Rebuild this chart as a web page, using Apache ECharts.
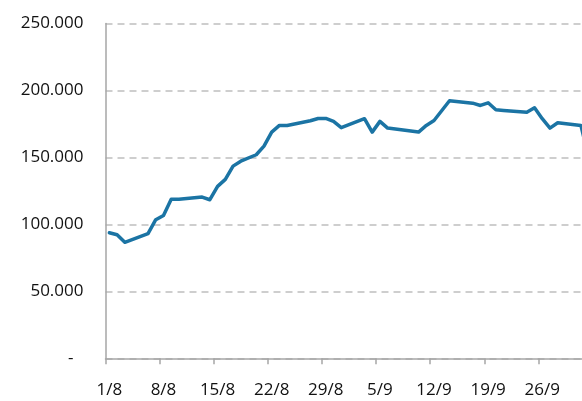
<!DOCTYPE html>
<html>
<head>
<meta charset="utf-8">
<script src="https://cdn.jsdelivr.net/npm/echarts@6/dist/echarts.min.js"></script>
<style>html,body{margin:0;padding:0;background:#fff;overflow:hidden;width:582px;height:401px}#c{width:600px;height:401px}</style>
</head>
<body>
<div id="c"></div>
<script>
// Daily categories (1 Aug – 2 Oct)
var days = ['1/8','2/8','3/8','4/8','5/8','6/8','7/8','8/8','9/8','10/8','11/8','12/8','13/8','14/8',
  '15/8','16/8','17/8','18/8','19/8','20/8','21/8','22/8','23/8','24/8','25/8','26/8','27/8','28/8',
  '29/8','30/8','31/8','1/9','2/9','3/9','4/9','5/9','6/9','7/9','8/9','9/9','10/9','11/9',
  '12/9','13/9','14/9','15/9','16/9','17/9','18/9','19/9','20/9','21/9','22/9','23/9','24/9','25/9',
  '26/9','27/9','28/9','29/9','30/9','1/10','2/10'];
// Series values (null = no observation, line connects across)
var values = [93800,92300,86600,null,null,93100,103500,106700,118700,118700,null,null,120400,118400,
  128400,133600,143500,147200,null,152000,158400,168900,173900,173900,null,null,177400,179100,
  179100,176900,172200,null,null,178900,168900,176900,171900,null,null,null,168900,173900,
  177600,null,192300,null,null,190500,188800,190800,185600,185100,null,null,183800,187100,
  178900,171900,175900,null,null,173900,150000];
var yTicks = [0,50000,100000,150000,200000,250000];

function fmt(v){
  if (v === 0) return '{z|-}';
  return String(v).replace(/\B(?=(\d{3})+(?!\d))/g, '.');
}

var chart = echarts.init(document.getElementById('c'), null, {renderer:'canvas'});
chart.setOption({
  animation:false,
  grid:{left:105.5, right:7.5, top:23.5, bottom:42.7, containLabel:false},
  xAxis:{
    type:'category', data:days, boundaryGap:true,
    axisLine:{show:true, lineStyle:{color:'#a6a6a6', width:1.5}},
    axisTick:{show:true, interval:6, length:6, lineStyle:{color:'#a6a6a6', width:1.5}},
    axisLabel:{interval:6, margin:23, color:'#111', fontFamily:'Open Sans', fontSize:17},
    splitLine:{show:false}
  },
  yAxis:{
    type:'value', min:yTicks[0], max:yTicks[yTicks.length-1], interval:50000,
    axisLine:{show:true, lineStyle:{color:'#a6a6a6', width:1.5}},
    axisTick:{show:false},
    axisLabel:{margin:22, color:'#111', fontFamily:'Open Sans', fontSize:17, formatter:fmt,
      rich:{z:{fontFamily:'Open Sans', fontSize:17, color:'#111', padding:[0,10,0,0]}}},
    splitLine:{show:true, lineStyle:{color:'#bfbfbf', width:1.5, type:[7,5]}}
  },
  series:[{
    type:'line', data:values, connectNulls:true, showSymbol:false, symbol:'none',
    lineStyle:{color:'#1b74a4', width:3.5, join:'round', cap:'round'},
    itemStyle:{color:'#1b74a4'}
  }]
});
</script>
</body>
</html>
